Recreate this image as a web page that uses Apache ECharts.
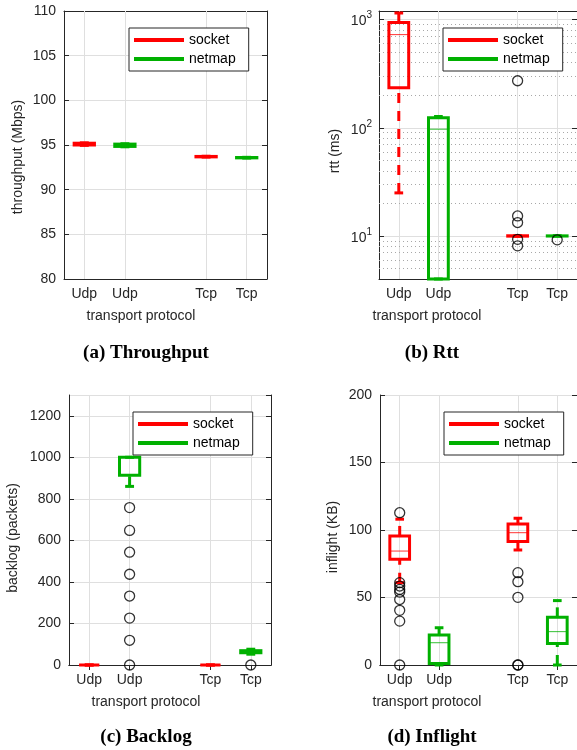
<!DOCTYPE html>
<html>
<head>
<meta charset="utf-8">
<script src="https://cdn.jsdelivr.net/npm/echarts@6/dist/echarts.min.js"></script>
<style>html,body{margin:0;padding:0;background:#fff;}#c{width:577px;height:750px;}</style>
</head>
<body>
<div id="c"></div>
<script>
// ---------- data ----------
const categories = ['Udp', 'Udp', '', 'Tcp', 'Tcp'];
const socketSlots = [0, 3];   // category slot of Udp / Tcp socket boxes
const netmapSlots = [1, 4];   // category slot of Udp / Tcp netmap boxes
const legendNames = ['socket', 'netmap'];

// box statistics per protocol (Udp, Tcp): [lower whisker, q1, median, q3, upper whisker]
const throughputSocket = [[94.96, 95.0, 95.1, 95.2, 95.24], [93.65, 93.67, 93.7, 93.72, 93.74]];
const throughputNetmap = [[94.8, 94.84, 94.98, 95.1, 95.14], [93.54, 93.56, 93.58, 93.6, 93.62]];
const throughputSocketOut = [[], []];
const throughputNetmapOut = [[], []];

const rttSocket = [[25, 234, 726, 940, 1150], [9.92, 9.96, 10, 10.04, 10.08]];
const rttNetmap = [[1, 1, 97, 124, 127], [9.95, 9.98, 10, 10.02, 10.05]];
const rttSocketOut = [[], [272, 15.3, 13.3, 9.3, 8.1]];
const rttNetmapOut = [[], [9.2]];

const backlogSocket = [[0, 0, 0, 0, 0], [0, 0, 0, 0, 0]];
const backlogNetmap = [[860, 914, 1000, 1000, 1000], [52, 59, 64, 69, 76]];
const backlogSocketOut = [[], []];
const backlogNetmapOut = [[758, 648, 543, 437, 332, 226, 119, 0], [0]];

const inflightSocket = [[61, 78.3, 84.4, 95.6, 108], [85.2, 91.4, 98, 104.4, 108.7]];
const inflightNetmap = [[0, 1.2, 16.5, 22.2, 27.6], [0, 16, 24.7, 35.3, 47.7]];
const inflightSocketOut = [[112.8, 61, 58.5, 56, 54, 48.5, 40.5, 32.5, 0], [68.4, 61.7, 50.1, 0, 0]];
const inflightNetmapOut = [[], []];

const yTitles = ['throughput (Mbps)', 'rtt (ms)', 'backlog (packets)', 'inflight (KB)'];
const xTitle = 'transport protocol';
const captions = ['(a) Throughput', '(b) Rtt', '(c) Backlog', '(d) Inflight'];

// ---------- styling / layout ----------
const RED = '#ff0000', GREEN = '#00b000', AX = '#262626', GRIDC = '#dfdfdf';
const FONT = 'Liberation Sans';
const grids = [
  {left: 64, top: 11, width: 203, height: 268},
  {left: 379, top: 11, width: 201, height: 268},
  {left: 69, top: 395, width: 202, height: 270},
  {left: 380, top: 395, width: 200, height: 270}
];
const legendPos = [[129, 28], [443, 28], [133, 412], [444, 412]];
const yTitlePos = [[18, 157], [335, 151], [13, 538], [333, 537]];
const xTitlePos = [[141, 316], [427, 316], [146, 702], [427, 702]];
const captionPos = [[146, 353], [432, 353], [146, 737], [432, 737]];

function makeRender(color, ymin, ymax) {
  return function (params, api) {
    const slot = api.value(0);
    const cl = v => Math.min(ymax, Math.max(ymin, v));
    const lw = cl(api.value(1)), q1 = cl(api.value(2)), med = cl(api.value(3)),
          q3 = cl(api.value(4)), uw = cl(api.value(5));
    const p = v => api.coord([slot, v]);
    const band = api.coord([1, med])[0] - api.coord([0, med])[0];
    const cx = p(med)[0];
    const hb = band * 0.25, hc = band * 0.11;
    const yLw = p(lw)[1], yQ1 = p(q1)[1], yMed = p(med)[1], yQ3 = p(q3)[1], yUw = p(uw)[1];
    const thick = {stroke: color, lineWidth: 3, fill: null, lineCap: 'butt'};
    const ch = [];
    if (yLw - yQ1 > 0.5) ch.push({type: 'line', shape: {x1: cx, y1: yLw, x2: cx, y2: yQ1},
      style: Object.assign({}, thick, {lineDash: [10, 8]})});
    if (yQ3 - yUw > 0.5) ch.push({type: 'line', shape: {x1: cx, y1: yQ3, x2: cx, y2: yUw},
      style: Object.assign({}, thick, {lineDash: [10, 8]})});
    ch.push({type: 'line', shape: {x1: cx - hc, y1: yLw, x2: cx + hc, y2: yLw}, style: thick});
    ch.push({type: 'line', shape: {x1: cx - hc, y1: yUw, x2: cx + hc, y2: yUw}, style: thick});
    ch.push({type: 'rect', shape: {x: cx - hb, y: yQ3, width: 2 * hb, height: yQ1 - yQ3},
      style: Object.assign({}, thick, {lineJoin: 'miter'})});
    ch.push({type: 'line', shape: {x1: cx - hb, y1: yMed, x2: cx + hb, y2: yMed},
      style: {stroke: color, lineWidth: 1, opacity: 0.8}});
    return {type: 'group', children: ch};
  };
}

const panels = [
  {s: throughputSocket, n: throughputNetmap, so: throughputSocketOut, no: throughputNetmapOut,
   y: {type: 'value', min: 80, max: 110, interval: 5}},
  {s: rttSocket, n: rttNetmap, so: rttSocketOut, no: rttNetmapOut,
   y: {type: 'log', logBase: 10, min: 4, max: 1200}, log: true},
  {s: backlogSocket, n: backlogNetmap, so: backlogSocketOut, no: backlogNetmapOut,
   y: {type: 'value', min: 0, max: 1300, interval: 200}},
  {s: inflightSocket, n: inflightNetmap, so: inflightSocketOut, no: inflightNetmapOut,
   y: {type: 'value', min: 0, max: 200, interval: 50}}
];

const option = {
  animation: false,
  backgroundColor: '#fff',
  grid: [], xAxis: [], yAxis: [], series: [], legend: [], graphic: []
};

const logMinor = [];
[1, 10, 100].forEach(d => { for (let k = 2; k <= 9; k++) { const v = k * d; if (v > 4 && v < 1200) logMinor.push(v); } });

panels.forEach((pn, i) => {
  option.grid.push(Object.assign({show: false}, grids[i]));
  const xi = option.xAxis.length, yi = option.yAxis.length;
  const tickFn = idx => idx !== 2;
  option.xAxis.push({
    type: 'category', gridIndex: i, data: categories, position: 'bottom', z: 3,
    axisLine: {show: true, lineStyle: {color: AX, width: 1}},
    axisTick: {show: true, inside: true, length: 5, alignWithLabel: true, interval: tickFn, lineStyle: {color: AX}},
    axisLabel: {interval: 0, color: AX, fontSize: 14, fontFamily: FONT, margin: 8},
    splitLine: {show: false}
  });
  option.xAxis.push({
    type: 'category', gridIndex: i, data: categories, position: 'top', z: 3,
    axisLine: {show: true, lineStyle: {color: AX, width: 1}},
    axisTick: {show: true, inside: true, length: 5, alignWithLabel: true, interval: tickFn, lineStyle: {color: AX}},
    axisLabel: {show: false}, splitLine: {show: false}
  });
  const yl = Object.assign({}, pn.y, {
    gridIndex: i, position: 'left', z: 1,
    axisLine: {show: true, lineStyle: {color: AX, width: 1}},
    axisTick: {show: true, inside: true, length: 5, lineStyle: {color: AX}},
    axisLabel: {color: AX, fontSize: 14, fontFamily: FONT, margin: 8,
      showMaxLabel: i === 2 ? false : true, formatter: v => String(v)},
    splitLine: {show: true, lineStyle: {color: GRIDC, width: 1}}
  });
  if (pn.log) {
    yl.axisLabel = {
      color: AX, fontFamily: FONT, margin: 7,
      formatter: v => {
        const e = Math.log10(v), r = Math.round(e);
        return Math.abs(e - r) < 1e-6 ? '{b|10}{s|' + r + '}' : '';
      },
      rich: {
        b: {fontSize: 14, fontFamily: FONT, color: AX, lineHeight: 18, verticalAlign: 'bottom'},
        s: {fontSize: 10, fontFamily: FONT, color: AX, lineHeight: 18, verticalAlign: 'top'}
      }
    };
  }
  option.yAxis.push(yl);
  option.yAxis.push(Object.assign({}, pn.y, {
    gridIndex: i, position: 'right', z: 3,
    axisLine: {show: true, lineStyle: {color: AX, width: 1}},
    axisTick: {show: true, inside: true, length: 5, lineStyle: {color: AX}},
    axisLabel: {show: false}, splitLine: {show: false}
  }));

  const ymin = pn.y.min, ymax = pn.y.max;
  // vertical grid lines (+ minor log grid)
  const ml = [0, 1, 3, 4].map(k => ({xAxis: k, lineStyle: {color: GRIDC, type: 'solid', width: 1}}));
  if (pn.log) logMinor.forEach(v => ml.push({yAxis: v, lineStyle: {color: '#a8a8a8', type: [1, 3], width: 1}}));
  option.series.push({
    type: 'line', xAxisIndex: xi, yAxisIndex: yi, data: [], z: 1, silent: true,
    markLine: {silent: true, symbol: 'none', label: {show: false}, animation: false, data: ml}
  });

  [[pn.s, socketSlots, RED, 'socket'], [pn.n, netmapSlots, GREEN, 'netmap']].forEach(([stats, slots, col, name]) => {
    option.series.push({
      type: 'custom', name: name, xAxisIndex: xi, yAxisIndex: yi, z: 5,
      itemStyle: {color: col},
      renderItem: makeRender(col, ymin, ymax),
      encode: {x: 0, y: [1, 2, 3, 4, 5]},
      data: stats.map((st, k) => [slots[k]].concat(st))
    });
  });
  const outs = [];
  pn.so.forEach((arr, k) => arr.forEach(v => outs.push([socketSlots[k], v])));
  pn.no.forEach((arr, k) => arr.forEach(v => outs.push([netmapSlots[k], v])));
  option.series.push({
    type: 'scatter', name: 'outliers', xAxisIndex: xi, yAxisIndex: yi, z: 6,
    symbol: 'circle', symbolSize: 10,
    itemStyle: {color: 'rgba(0,0,0,0)', borderColor: '#000', borderWidth: 1.3},
    data: outs
  });

  option.legend.push({
    left: legendPos[i][0], top: legendPos[i][1], orient: 'vertical', data: legendNames,
    icon: 'rect', itemWidth: 50, itemHeight: 4, itemGap: 3, padding: [4, 13, 4, 5],
    backgroundColor: '#fff', borderColor: AX, borderWidth: 1, selectedMode: false, z: 10,
    textStyle: {fontSize: 14, color: '#000', fontFamily: FONT, lineHeight: 16}
  });

  option.graphic.push({type: 'text', x: yTitlePos[i][0], y: yTitlePos[i][1], rotation: Math.PI / 2,
    style: {text: yTitles[i], font: '14px "' + FONT + '"', fill: AX, align: 'center', verticalAlign: 'middle'}});
  option.graphic.push({type: 'text', x: xTitlePos[i][0], y: xTitlePos[i][1],
    style: {text: xTitle, font: '14px "' + FONT + '"', fill: AX, align: 'center', verticalAlign: 'middle'}});
  option.graphic.push({type: 'text', x: captionPos[i][0], y: captionPos[i][1],
    style: {text: captions[i], font: 'bold 19px "Liberation Serif"', fill: '#000', align: 'center', verticalAlign: 'middle'}});
});

const chart = echarts.init(document.getElementById('c'), null, {renderer: 'canvas'});
chart.setOption(option);
</script>
</body>
</html>
